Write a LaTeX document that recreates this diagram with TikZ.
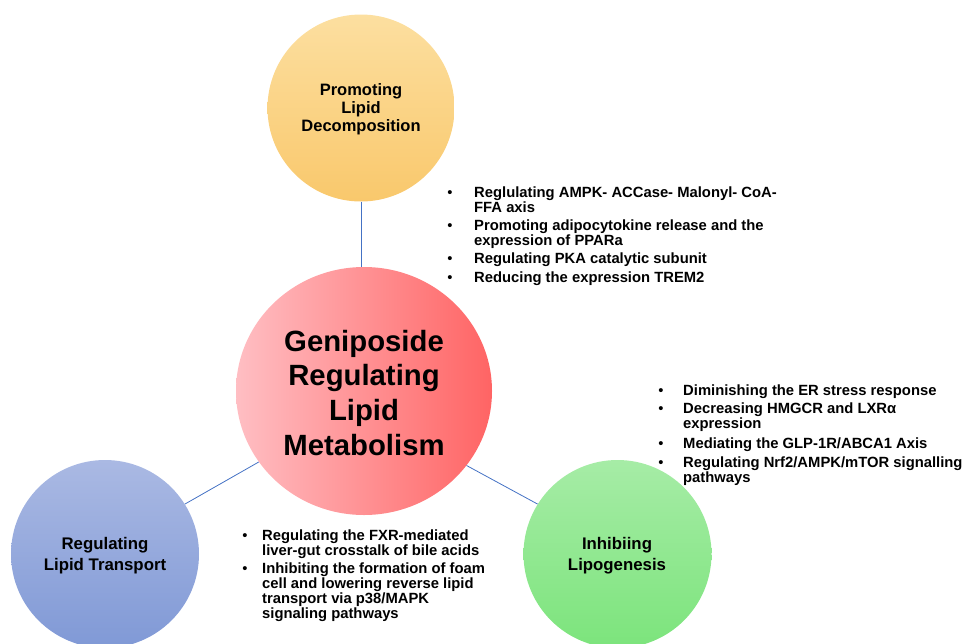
\documentclass[tikz,border=0pt]{standalone}
\usepackage{fontspec}
\setmainfont{Liberation Sans}
\usetikzlibrary{shapes.geometric}
\definecolor{linkblue}{RGB}{68,114,196}
\definecolor{orgtop}{RGB}{252,223,160}
\definecolor{orgbot}{RGB}{249,200,108}
\definecolor{redl}{RGB}{255,190,195}
\definecolor{redr}{RGB}{255,100,100}
\definecolor{blutop}{RGB}{170,185,227}
\definecolor{blubot}{RGB}{128,153,214}
\definecolor{grntop}{RGB}{166,236,166}
\definecolor{grnbot}{RGB}{124,228,124}
\newcommand\mlines[2]{\begin{tabular}[t]{@{}#1@{}}#2\end{tabular}}
\begin{document}
\begin{tikzpicture}[x=1pt,y=-1pt,
  bubble/.style={circle, minimum size=188pt, inner sep=0pt, draw=none},
  link/.style={draw=linkblue, line width=0.8pt},
  ctitle/.style={anchor=base, inner sep=0pt, font=\bfseries\fontsize{16.5}{18.3}\selectfont},
  stitle/.style={anchor=base, inner sep=0pt, font=\bfseries\fontsize{16.8}{21}\selectfont},
  bigtitle/.style={anchor=base, inner sep=0pt, font=\bfseries\fontsize{29.3}{34.7}\selectfont},
  itemtext/.style={anchor=base west, inner sep=0pt, font=\bfseries\fontsize{14.8}{15.3}\selectfont},
  dot/.style={anchor=base, inner sep=0pt, font=\fontsize{14.8}{15.3}\selectfont}
]
\useasboundingbox (0,0) rectangle (967,643);
% circles
\node[bubble, minimum size=187pt, top color=orgtop, bottom color=orgbot] (lipdec) at (361,108) {};
\node[ellipse, minimum width=256pt, minimum height=248pt, inner sep=0pt, left color=redl, right color=redr] (core) at (364,391) {};
\node[bubble, top color=blutop, bottom color=blubot] (transport) at (105,554) {};
\node[bubble, top color=grntop, bottom color=grnbot] (lipogen) at (617.5,554) {};
% connectors
\draw[link] (lipdec.south) -- (lipdec.south |- core.north);
\draw[link] (core.214) -- (transport.32);
\draw[link] (core.324) -- (lipogen.148);
% titles
\node[ctitle] (t1) at (361,95) {\mlines{c}{Promoting\\Lipid\\Decomposition}};
\node[bigtitle] (t0) at (364,351) {\mlines{c}{Geniposide\\Regulating\\Lipid\\Metabolism}};
\node[stitle] (t2) at (105,549) {\mlines{c}{Regulating\\Lipid Transport}};
\node[stitle] (t3) at (617,549) {\mlines{c}{Inhibiing\\Lipogenesis}};
% top list
\node[dot] (ba1) at (450,197) {•};
\node[itemtext] (ia1) at (474,197) {\mlines{l}{Reglulating AMPK- ACCase- Malonyl- CoA-\\FFA axis}};
\node[dot] (ba2) at (450,230) {•};
\node[itemtext] (ia2) at (474,230) {\mlines{l}{Promoting adipocytokine release and the\\expression of PPARa}};
\node[dot] (ba3) at (450,263) {•};
\node[itemtext] (ia3) at (474,263) {Regulating PKA catalytic subunit};
\node[dot] (ba4) at (450,282) {•};
\node[itemtext] (ia4) at (474,282) {Reducing the expression TREM2};
% right list
\node[dot] (bb1) at (661,395) {•};
\node[itemtext] (ib1) at (683,395) {Diminishing the ER stress response};
\node[dot] (bb2) at (661,413) {•};
\node[itemtext] (ib2) at (683,413) {\mlines{l}{Decreasing HMGCR and LXRα\\expression}};
\node[dot] (bb3) at (661,448) {•};
\node[itemtext] (ib3) at (683,448) {Mediating the GLP-1R/ABCA1 Axis};
\node[dot] (bb4) at (661,467) {•};
\node[itemtext] (ib4) at (683,467) {\mlines{l}{Regulating Nrf2/AMPK/mTOR signalling\\pathways}};
% bottom list
\node[dot] (bc1) at (245,540) {•};
\node[itemtext] (ic1) at (262,540) {\mlines{l}{Regulating the FXR-mediated\\liver-gut crosstalk of bile acids}};
\node[dot] (bc2) at (245,573) {•};
\node[itemtext] (ic2) at (262,573) {\mlines{l}{Inhibiting the formation of foam\\cell and lowering reverse lipid\\transport via p38/MAPK\\signaling pathways}};
\end{tikzpicture}
\end{document}
